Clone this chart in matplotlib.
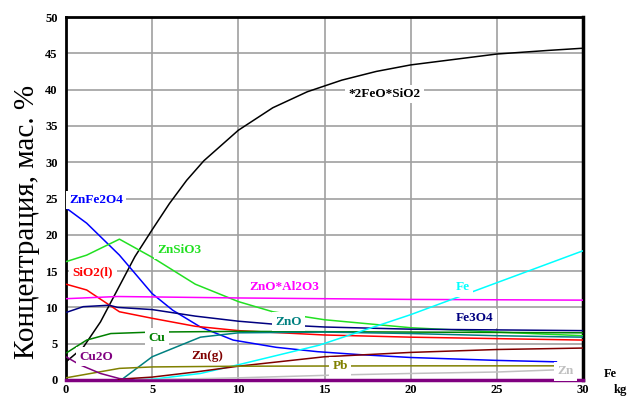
import matplotlib
matplotlib.use("Agg")
import matplotlib.pyplot as plt

# ---- data ----
x_fayalite = [0, 1, 2, 3, 4, 5, 6, 7, 8, 10, 12, 14, 16, 18, 20, 22, 25, 28, 30]
y_fayalite = [2.5, 4.5, 8.0, 12.5, 17.0, 20.7, 24.3, 27.5, 30.2, 34.4, 37.5, 39.7, 41.3, 42.5, 43.4, 44.0, 44.9, 45.4, 45.7]

x_znfe2o4 = [0, 1.2, 3.1, 5, 6.2, 7.8, 9.7, 12.2, 14.6, 17, 20, 25, 28.5]
y_znfe2o4 = [23.7, 21.6, 17.2, 11.9, 9.6, 7.3, 5.5, 4.5, 3.9, 3.5, 3.1, 2.7, 2.5]

x_znsio3 = [0, 1.2, 3.1, 5, 7.5, 10, 12, 15, 20, 25, 30]
y_znsio3 = [16.3, 17.2, 19.4, 16.9, 13.2, 10.8, 9.4, 8.3, 7.2, 6.6, 6.1]

x_sio2 = [0, 1.2, 3.1, 5, 7.5, 10, 15, 20, 25, 30]
y_sio2 = [13.2, 12.4, 9.4, 8.5, 7.4, 6.8, 6.2, 5.9, 5.7, 5.5]

x_znoal = [0, 3, 10, 20, 30]
y_znoal = [11.2, 11.5, 11.3, 11.1, 11.0]

x_fe3o4 = [0, 1, 2.5, 3, 5, 7.5, 10, 12.5, 15, 20, 25, 30]
y_fe3o4 = [9.3, 10.1, 10.3, 10.0, 9.7, 8.8, 8.1, 7.6, 7.3, 7.0, 6.9, 6.8]

x_zno = [3.2, 5, 7.8, 10, 15, 20, 25, 30]
y_zno = [0.0, 3.2, 5.9, 6.5, 6.6, 6.4, 6.1, 5.9]

x_cu = [0, 1.2, 2.6, 5, 10, 20, 30]
y_cu = [3.7, 5.5, 6.4, 6.6, 6.7, 6.6, 6.5]

x_fe = [3.5, 5, 7.8, 10, 14.7, 20, 25, 30]
y_fe = [0.0, 0.1, 0.9, 2.1, 4.8, 9.0, 13.4, 17.8]

x_zng = [3, 5, 7.5, 10, 15, 20, 25, 30]
y_zng = [0.1, 0.4, 1.1, 1.9, 3.2, 3.8, 4.2, 4.4]

x_pb = [0, 3.1, 5, 10, 20, 28.5]
y_pb = [0.3, 1.6, 1.8, 1.9, 1.95, 1.95]

x_zn = [4, 10, 15.9, 20, 25, 28.5]
y_zn = [0.0, 0.3, 0.7, 0.9, 1.1, 1.4]

x_cu2o = [0, 0.8, 2, 3.1, 4, 30]
y_cu2o = [3.2, 2.1, 0.9, 0.2, 0.0, 0.0]

x_ticks = [0, 5, 10, 15, 20, 25, 30]
y_ticks = [0, 5, 10, 15, 20, 25, 30, 35, 40, 45, 50]

series = [
    (x_fayalite, y_fayalite, "black", "*2FeO*SiO2", 18.5, 39.4),
    (x_znfe2o4, y_znfe2o4, "#0000FF", "ZnFe2O4", 1.74, 24.8),
    (x_znsio3, y_znsio3, "#22E022", "ZnSiO3", 6.56, 17.9),
    (x_sio2, y_sio2, "#FF0000", "SiO2(l)", 1.57, 14.9),
    (x_znoal, y_znoal, "#FF00FF", "ZnO*Al2O3", 12.65, 12.8),
    (x_fe3o4, y_fe3o4, "#000080", "Fe3O4", 23.7, 8.5),
    (x_cu, y_cu, "#008000", "Cu", 5.26, 5.8),
    (x_zno, y_zno, "#008080", "ZnO", 12.9, 8.0),
    (x_fe, y_fe, "#00FFFF", "Fe", 23.0, 12.8),
    (x_zng, y_zng, "#800000", "Zn(g)", 8.2, 3.3),
    (x_pb, y_pb, "#808000", "Pb", 15.9, 1.9),
    (x_zn, y_zn, "#C0C0C0", "Zn", 29.0, 1.2),
    (x_cu2o, y_cu2o, "#800080", "Cu2O", 1.74, 3.2),
]

serif = ["Liberation Serif", "DejaVu Serif"]

fig = plt.figure(figsize=(6.27, 3.98), dpi=100)
ax = fig.add_axes([66 / 627, 1 - 380 / 398, (583 - 66) / 627, (380 - 17) / 398])

for xs, ys, c, lab, lx, ly in series:
    ax.plot(xs, ys, color=c, lw=1.1, zorder=3, solid_capstyle="butt")
    ax.text(lx, ly, lab, color=c, fontsize=9.5, fontweight="bold", family=serif,
            ha="center", va="center", zorder=5,
            bbox=dict(facecolor="white", edgecolor="none", pad=2.5))

ax.set_xlim(0, 30)
ax.set_ylim(0, 50)
ax.set_xticks(x_ticks)
ax.set_yticks(y_ticks)
ax.grid(True, color="#A0A0A0", lw=1.2, zorder=1)
ax.set_axisbelow(True)
ax.tick_params(axis="y", length=0, pad=6)
ax.tick_params(axis="x", length=0, pad=3)
for lbl in ax.get_xticklabels() + ax.get_yticklabels():
    lbl.set_fontfamily(serif)
    lbl.set_fontweight("bold")
    lbl.set_fontsize(9)

ax.spines["left"].set_linewidth(2.0)
ax.spines["top"].set_linewidth(2.0)
ax.spines["right"].set_linewidth(2.5)
ax.spines["bottom"].set_linewidth(2.5)
ax.spines["bottom"].set_color("#800080")

fig.text(27 / 627, 1 - 222 / 398, "Концентрация, мас. %", rotation=90,
         ha="center", va="center", fontsize=21, family=serif)
fig.text(610 / 627, 1 - 374 / 398, "Fe", ha="center", va="center",
         fontsize=9, fontweight="bold", family=serif)
fig.text(620 / 627, 1 - 390 / 398, "kg", ha="center", va="center",
         fontsize=9, fontweight="bold", family=serif)

fig.savefig("out.png", dpi=100)
